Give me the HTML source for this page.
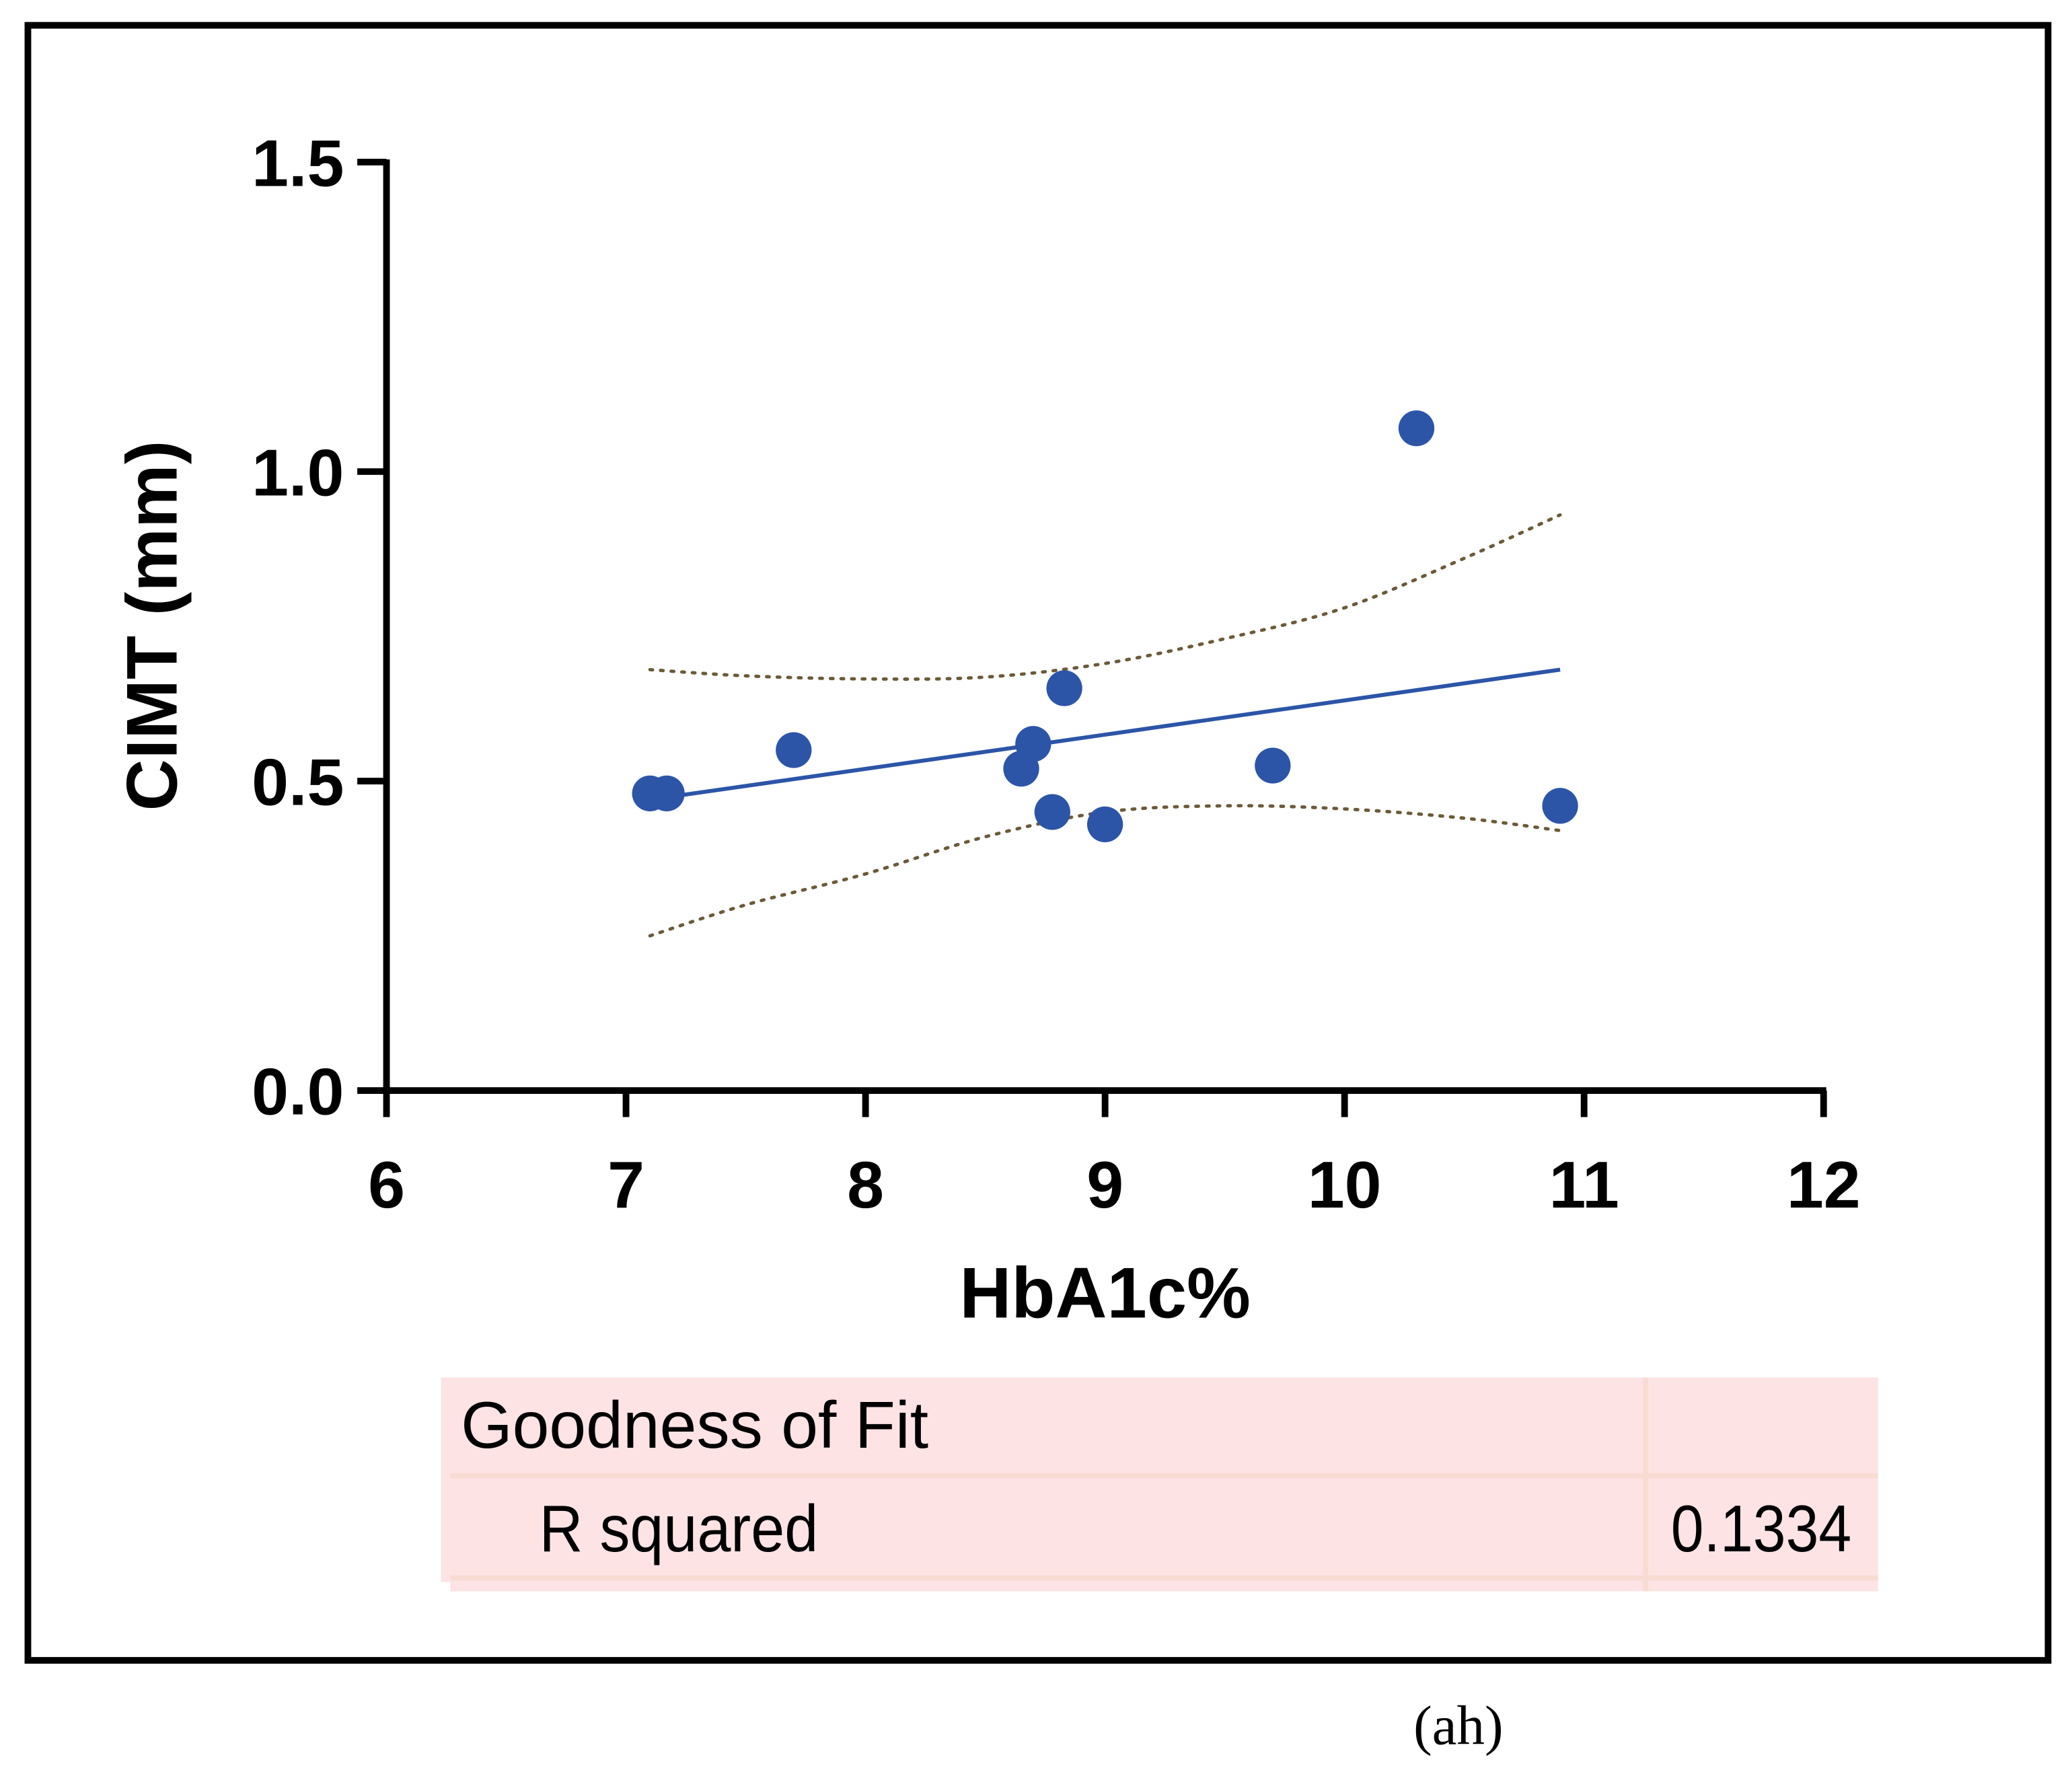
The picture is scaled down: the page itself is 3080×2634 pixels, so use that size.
<!DOCTYPE html>
<html><head><meta charset="utf-8"><style>
html,body{margin:0;padding:0;background:#fff;}
svg{display:block;}
</style></head><body>
<svg id="chart" width="3080" height="2634" viewBox="0 0 1560 1334" xmlns="http://www.w3.org/2000/svg">
<rect x="21" y="19" width="1521" height="1231" fill="none" stroke="#000" stroke-width="5"/>
<g id="axes"></g>
<g id="marks"></g>
<text x="832" y="992" text-anchor="middle" font-family="Liberation Sans, sans-serif" font-weight="bold" font-size="54">HbA1c%</text>
<text transform="translate(133,471) rotate(-90)" text-anchor="middle" font-family="Liberation Sans, sans-serif" font-weight="bold" font-size="54">CIMT (mm)</text>
<g>
<rect x="332" y="1037" width="1082" height="154" fill="#fde3e4"/>
<rect x="339" y="1191" width="1075" height="7" fill="#fde3e4"/>
<rect x="339" y="1109" width="1075" height="4" fill="#f8dcd3"/>
<rect x="339" y="1186" width="1075" height="4" fill="#f8dcd3"/>
<rect x="1237" y="1037" width="4" height="161" fill="#f8dcd3"/>
<text x="347" y="1090" font-family="Liberation Sans, sans-serif" font-size="50" textLength="352" lengthAdjust="spacingAndGlyphs">Goodness of Fit</text>
<text x="406" y="1168" font-family="Liberation Sans, sans-serif" font-size="50" textLength="210" lengthAdjust="spacingAndGlyphs">R squared</text>
<text x="1258" y="1168" font-family="Liberation Sans, sans-serif" font-size="50" textLength="136" lengthAdjust="spacingAndGlyphs">0.1334</text>
</g>
<text x="1098" y="1313" text-anchor="middle" font-family="Liberation Serif, serif" font-size="42">(ah)</text>
</svg>
<script>
const xTicks=[6,7,8,9,10,11,12];
const yTicks=[0.0,0.5,1.0,1.5];
const yTickLabels=["0.0","0.5","1.0","1.5"];
const ptX=[7.1,7.17,7.7,8.65,8.7,8.78,8.83,9.0,9.7,10.3,10.9];
const ptY=[0.48,0.48,0.55,0.52,0.56,0.45,0.65,0.43,0.525,1.07,0.46];
const fitX=[7.1,10.9];
const fitY=[0.47,0.68];
const bandX=[7.1,7.5,8.0,8.5,9.0,9.5,10.0,10.5,10.9];
const upperY=[0.68,0.67,0.665,0.668,0.69,0.73,0.78,0.86,0.93];
const lowerY=[0.25,0.30,0.35,0.41,0.45,0.46,0.455,0.44,0.42];
const NS='http://www.w3.org/2000/svg';
const sx=v=>291+(v-6)*180.33;
const sy=v=>821-v*466;
function mk(tag,attrs,parent){const e=document.createElementNS(NS,tag);for(const k in attrs)e.setAttribute(k,attrs[k]);parent.appendChild(e);return e;}
const axes=document.getElementById('axes');
const marks=document.getElementById('marks');
let a=mk('line',{x1:sx(6),y1:sy(1.5)-2,x2:sx(6),y2:sy(0)+2,stroke:'#000','stroke-width':5},axes);


a=mk('line',{x1:sx(6)-2,y1:sy(0),x2:sx(12)+2,y2:sy(0),stroke:'#000','stroke-width':5},axes);


xTicks.forEach(v=>{
 const t=mk('line',{x1:sx(v),y1:sy(0),x2:sx(v),y2:sy(0)+20,stroke:'#000','stroke-width':5},axes);
 
 
 const l=mk('text',{x:sx(v),y:909,'text-anchor':'middle','font-family':'Liberation Sans, sans-serif','font-weight':'bold','font-size':50},axes);
 l.textContent=String(v);
 
 
});
yTicks.forEach((v,i)=>{
 const t=mk('line',{x1:sx(6)-22,y1:sy(v),x2:sx(6),y2:sy(v),stroke:'#000','stroke-width':5},axes);
 
 
 const l=mk('text',{x:259,y:sy(v)+18,'text-anchor':'end','font-family':'Liberation Sans, sans-serif','font-weight':'bold','font-size':50},axes);
 l.textContent=yTickLabels[i];
 
 
});
function band(ys,name){
 const pts=bandX.map((x,i)=>[sx(x),sy(ys[i])]);
 let d='M'+pts[0][0]+' '+pts[0][1];
 for(let i=0;i<pts.length-1;i++){
  const p0=pts[Math.max(0,i-1)],p1=pts[i],p2=pts[i+1],p3=pts[Math.min(pts.length-1,i+2)];
  const c1=[p1[0]+(p2[0]-p0[0])/6,p1[1]+(p2[1]-p0[1])/6];
  const c2=[p2[0]-(p3[0]-p1[0])/6,p2[1]-(p3[1]-p1[1])/6];
  d+=' C'+c1[0]+' '+c1[1]+' '+c2[0]+' '+c2[1]+' '+p2[0]+' '+p2[1];
 }
 const p=mk('path',{d:d,fill:'none',stroke:'#6b5a3a','stroke-width':2.5,'stroke-dasharray':'2 6','stroke-linecap':'round'},marks);
 
 
}
band(upperY,'upper-confidence-band');
band(lowerY,'lower-confidence-band');
const fl=mk('line',{x1:sx(fitX[0]),y1:sy(fitY[0]),x2:sx(fitX[1]),y2:sy(fitY[1]),stroke:'#2c55a8','stroke-width':3},marks);


ptX.forEach((x,i)=>{
 const c=mk('circle',{cx:sx(x),cy:sy(ptY[i]),r:13.5,fill:'#2c55a8'},marks);
 
 
});
</script>
</body></html>
